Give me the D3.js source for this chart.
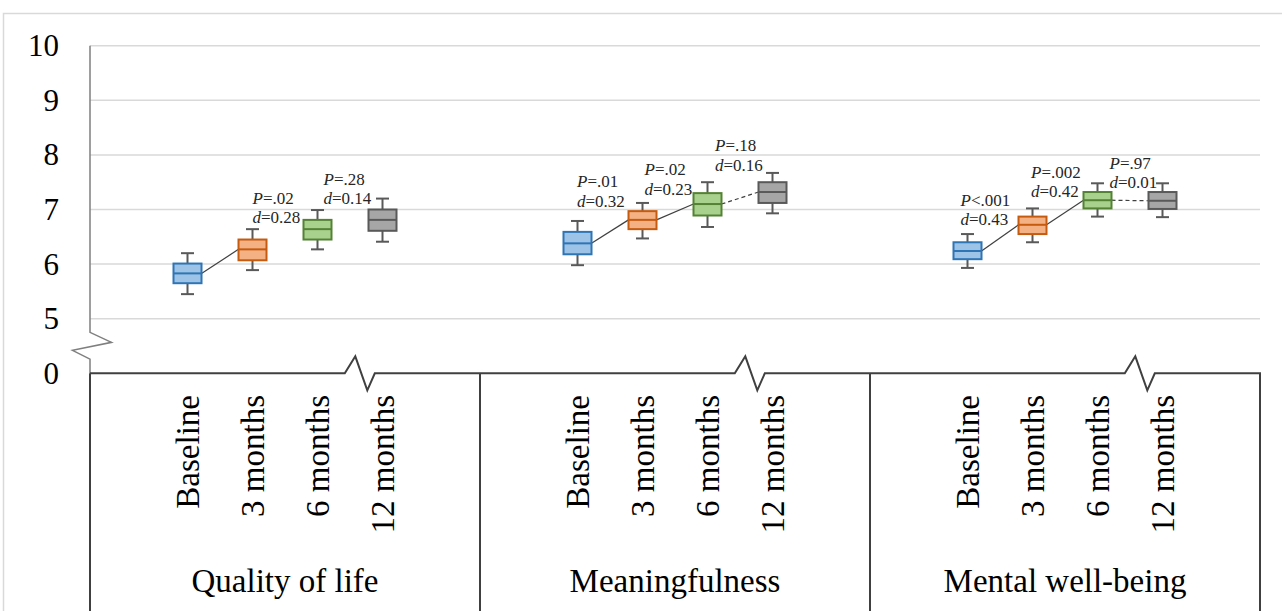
<!DOCTYPE html>
<html><head><meta charset="utf-8">
<script src="https://cdn.jsdelivr.net/npm/d3@7"></script>
<style>
html,body{margin:0;padding:0;background:#fff;}
svg{display:block;}
</style></head>
<body>
<svg id="chart" width="1282" height="611"></svg>
<script>
// ---------- data ----------
const categories = ["Quality of life", "Meaningfulness", "Mental well-being"];
const timepoints = ["Baseline", "3 months", "6 months", "12 months"];
const tickValues = [4, 5, 6, 7, 8, 9, 10];          // 4 stands in for the broken-axis "0"
const tickLabels = ["0", "5", "6", "7", "8", "9", "10"];
// five-number summaries [min, q1, median, q3, max] per timepoint
const qualityOfLife   = [[5.45,5.65,5.83,6.01,6.20],[5.89,6.07,6.27,6.45,6.64],[6.27,6.45,6.64,6.81,6.99],[6.41,6.61,6.81,7.00,7.20]];
const meaningfulness  = [[5.98,6.18,6.38,6.59,6.79],[6.47,6.64,6.81,6.97,7.12],[6.68,6.89,7.10,7.30,7.50],[6.93,7.12,7.32,7.50,7.67]];
const mentalWellBeing = [[5.93,6.09,6.24,6.40,6.55],[6.40,6.55,6.72,6.87,7.02],[6.87,7.02,7.17,7.32,7.48],[6.86,7.01,7.16,7.32,7.48]];
const seriesByCategory = [qualityOfLife, meaningfulness, mentalWellBeing];
// connector between timepoint i and i+1 ("solid", "dashed" or null)
const connectors = [["solid", null, null], ["solid", "solid", "dashed"], ["solid", "solid", "dashed"]];
// annotations: category index, timepoint index, P text, d text, value level of the lower line
const annP     = ["=.02", "=.28", "=.01", "=.02", "=.18", "<.001", "=.002", "=.97"];
const annD     = ["=0.28", "=0.14", "=0.32", "=0.23", "=0.16", "=0.43", "=0.42", "=0.01"];
const annCat   = [0, 0, 1, 1, 1, 2, 2, 2];
const annTime  = [1, 2, 0, 1, 2, 0, 1, 2];
const annLevel = [6.75, 7.10, 7.05, 7.27, 7.71, 6.71, 7.22, 7.39];

// ---------- styles ----------
const FONT = "'Times New Roman', Times, Tinos, 'Nimbus Roman', 'Nimbus Roman No9 L', 'FreeSerif', 'Noto Serif', 'Liberation Serif', 'DejaVu Serif', Georgia, serif";
const fills   = ["#9dc3e6", "#f4b183", "#a9d18e", "#a6a6a6"];
const strokes = ["#2e75b6", "#c55a11", "#548235", "#595959"];
const annDx   = [0, 6, -0.5, 2, 7.5, -7, -1.5, 12];

const svg = d3.select("#chart").attr("font-family", FONT);
const left = 90, right = 1260, bottom = 611;
const y = d3.scaleLinear().domain([4, 10]).range([373.3, 45.7]);
const gx = d3.scaleBand().domain(categories).range([left, right]);
const ix = d3.scaleBand().domain(timepoints).range([0, gx.bandwidth()]).paddingInner(0).paddingOuter(1);
const cx = (c, t) => gx(categories[c]) + ix(timepoints[t]) + ix.bandwidth() / 2;

// outer frame (light)
svg.append("path").attr("d", `M3.5,${bottom} V13.5 H1282`).attr("fill", "none").attr("stroke", "#d9d9d9").attr("stroke-width", 1.5);

// gridlines
svg.append("g").selectAll("line").data(tickValues.filter(v => v >= 5)).join("line")
  .attr("x1", left).attr("x2", right).attr("y1", d => y(d)).attr("y2", d => y(d))
  .attr("stroke", "#d9d9d9").attr("stroke-width", 1.5);

// y axis tick labels
const yAxis = d3.axisLeft(y).tickValues(tickValues).tickFormat((d, i) => tickLabels[i]).tickSize(0).tickPadding(31);
const ga = svg.append("g").attr("transform", `translate(${left},0)`).call(yAxis);
ga.attr("font-family", FONT).attr("font-size", 31);
ga.select(".domain").remove();
ga.selectAll("text").attr("fill", "#000");

// y axis line with break
const yb1 = y(4.75), yb2 = y(4.26);
svg.append("path")
  .attr("d", `M${left},${y(10)} V${yb1} L${left + 21.5},${yb1 + 10} L${left - 17.5},${yb1 + 18} L${left},${yb2} V${y(4)}`)
  .attr("fill", "none").attr("stroke", "#7f7f7f").attr("stroke-width", 1.5);

// bottom axis with breaks and category box
const y0 = y(4);
let d = `M${left},${y0}`;
categories.forEach((c, i) => {
  const s = gx(c) + ix(timepoints[2]) + ix.bandwidth() * 0.92;
  d += ` H${s} L${s + 10.5},${y0 - 17} L${s + 22.5},${y0 + 17} L${s + 30},${y0}`;
});
d += ` H${right} V${bottom}`;
svg.append("path").attr("d", d).attr("fill", "none").attr("stroke", "#404040").attr("stroke-width", 2);
svg.append("g").selectAll("line").data([left, gx(categories[1]), gx(categories[2])]).join("line")
  .attr("x1", d => d).attr("x2", d => d).attr("y1", y0).attr("y2", bottom)
  .attr("stroke", "#404040").attr("stroke-width", 2);

// category labels
svg.append("g").selectAll("text").data(categories).join("text")
  .attr("x", c => gx(c) + gx.bandwidth() / 2).attr("y", 592)
  .attr("text-anchor", "middle").attr("font-size", 33).text(c => c);

// rotated timepoint labels
categories.forEach((c, ci) => {
  svg.append("g").selectAll("text").data(timepoints).join("text")
    .attr("transform", (t, ti) => `translate(${cx(ci, ti)},395) rotate(-90)`)
    .attr("dy", "0.34em").attr("text-anchor", "end").attr("font-size", 33).text(t => t);
});

// connectors
const boxW = 28, capW = 13;
seriesByCategory.forEach((series, ci) => {
  connectors[ci].forEach((style, k) => {
    if (!style) return;
    svg.append("line")
      .attr("x1", cx(ci, k) + boxW / 2).attr("y1", y(series[k][2]))
      .attr("x2", cx(ci, k + 1) - boxW / 2).attr("y2", y(series[k + 1][2]))
      .attr("stroke", "#404040").attr("stroke-width", 1.2)
      .attr("stroke-dasharray", style === "dashed" ? "4,3" : null);
  });
});

// boxes
seriesByCategory.forEach((series, ci) => {
  const g = svg.append("g");
  series.forEach((s, ti) => {
    const x = cx(ci, ti);
    const [mn, q1, md, q3, mx] = s;
    g.append("line").attr("x1", x).attr("x2", x).attr("y1", y(mx)).attr("y2", y(q3)).attr("stroke", "#595959").attr("stroke-width", 2);
    g.append("line").attr("x1", x).attr("x2", x).attr("y1", y(q1)).attr("y2", y(mn)).attr("stroke", "#595959").attr("stroke-width", 2);
    g.append("line").attr("x1", x - capW / 2).attr("x2", x + capW / 2).attr("y1", y(mx)).attr("y2", y(mx)).attr("stroke", "#595959").attr("stroke-width", 2);
    g.append("line").attr("x1", x - capW / 2).attr("x2", x + capW / 2).attr("y1", y(mn)).attr("y2", y(mn)).attr("stroke", "#595959").attr("stroke-width", 2);
    g.append("rect").attr("x", x - boxW / 2).attr("width", boxW).attr("y", y(q3)).attr("height", y(q1) - y(q3))
      .attr("fill", fills[ti]).attr("stroke", strokes[ti]).attr("stroke-width", 2);
    g.append("line").attr("x1", x - boxW / 2).attr("x2", x + boxW / 2).attr("y1", y(md)).attr("y2", y(md))
      .attr("stroke", strokes[ti]).attr("stroke-width", 2);
  });
});

// annotations
annP.forEach((p, i) => {
  const x = cx(annCat[i], annTime[i]) + annDx[i];
  const yy = y(annLevel[i]);
  const t1 = svg.append("text").attr("x", x).attr("y", yy - 19.5).attr("font-size", 17).attr("fill", "#262626");
  t1.append("tspan").attr("font-style", "italic").text("P");
  t1.append("tspan").text(p);
  const t2 = svg.append("text").attr("x", x).attr("y", yy).attr("font-size", 17).attr("fill", "#262626");
  t2.append("tspan").attr("font-style", "italic").text("d");
  t2.append("tspan").text(annD[i]);
});
</script>
</body></html>
